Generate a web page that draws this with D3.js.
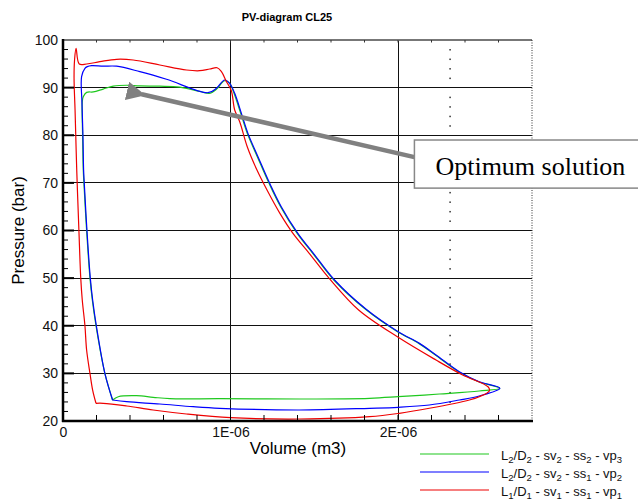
<!DOCTYPE html>
<html>
<head>
  <meta charset="utf-8">
  <style>
    body { margin: 0; background: #fff; }
    text { font-family: "Liberation Sans", Arial, sans-serif; }
  </style>
</head>
<body>
  <script src="https://cdn.jsdelivr.net/npm/d3@7"></script>
  <script>
    // volume in units of 1E-06 m3, pressure in bar
    const seriesNames = ["L_2/D_2 - sv_2 - ss_2 - vp_3", "L_2/D_2 - sv_2 - ss_1 - vp_2", "L_1/D_1 - sv_1 - ss_1 - vp_1"];
    const seriesColors = ["#1ec81e", "#0000ff", "#ee0000"];

    const greenVol = [0.296,0.250,0.197,0.175,0.161,0.141,0.125,0.121,0.117,0.115,0.121,0.141,0.181,0.240,0.300,0.380,0.459,0.578,0.697,0.816,0.876,0.916,0.965,0.995,1.021,1.061,1.100,1.160,1.230,1.299,1.398,1.498,1.617,1.806,1.997,2.124,2.223,2.362,2.482,2.608,2.485,2.247,2.001,1.830,1.412,0.936,0.638,0.538,0.439,0.330,0.296];
    const greenPres = [24.41,30.0,40.0,45.4,50.0,60.0,69.9,72.7,80.0,87.0,88.1,89.0,89.1,89.7,90.3,90.5,90.35,90.3,90.1,89.2,88.8,89.65,91.45,90.9,88.8,84.6,80.4,75.5,69.9,65.0,59.4,54.9,49.6,43.45,38.75,36.3,33.86,30.35,28.25,26.87,26.3,25.67,25.1,24.77,24.62,24.68,24.68,24.98,25.31,25.1,24.41];

    const blueVol = [0.296,0.250,0.199,0.177,0.163,0.143,0.127,0.123,0.119,0.113,0.111,0.131,0.145,0.171,0.240,0.320,0.459,0.618,0.866,0.916,0.965,0.995,1.025,1.065,1.104,1.164,1.234,1.303,1.402,1.502,1.621,1.810,2.001,2.128,2.227,2.366,2.485,2.608,2.485,2.366,2.187,2.001,1.830,1.412,0.936,0.777,0.578,0.380,0.296];
    const bluePres = [24.41,30.0,40.0,45.4,50.0,60.0,69.9,72.7,80.0,87.0,92.3,94.05,94.4,94.6,94.5,94.5,93.35,91.75,88.93,89.86,91.6,90.9,88.8,84.6,80.4,75.5,69.9,65.0,59.4,54.9,49.6,43.45,38.75,36.3,33.86,30.35,28.25,26.87,25.25,24.41,23.36,22.88,22.67,22.31,22.67,23.0,23.57,24.05,24.41];

    const redVol = [0.197,0.177,0.161,0.141,0.131,0.115,0.106,0.095,0.082,0.072,0.066,0.069,0.078,0.097,0.141,0.220,0.320,0.419,0.578,0.737,0.816,0.876,0.920,0.946,0.976,1.005,1.025,1.055,1.100,1.158,1.218,1.295,1.373,1.470,1.588,1.765,2.001,2.227,2.386,2.539,2.545,2.485,2.426,2.187,2.008,1.830,1.412,1.001,0.737,0.538,0.380,0.240,0.197];
    const redPres = [23.72,26.5,30.0,34.9,40.0,45.4,50.0,60.0,72.7,85.3,92.0,95.8,98.26,94.96,94.96,95.44,95.95,95.8,94.75,93.7,93.55,93.91,94.18,93.34,91.25,89.35,85.3,82.85,77.6,72.7,68.5,63.6,59.4,55.2,50.0,43.3,37.57,32.8,29.66,27.14,26.3,25.1,24.41,22.67,21.62,20.9,20.42,20.69,21.47,22.31,23.15,23.72,23.72];

    const xTickVals = [0, 1, 2];
    const xTickLabels = ["0", "1E-06", "2E-06"];
    const yTickVals = [20, 30, 40, 50, 60, 70, 80, 90, 100];

    container_w = 638;
    container_h = 502;
    const margin = { top: 40, right: 106, bottom: 81, left: 63 };
    const plotRight = container_w - margin.right;
    const plotBottom = container_h - margin.bottom;

    var xScale = d3.scaleLinear().domain([0, 2.8]).range([margin.left, plotRight]);
    var yScale = d3.scaleLinear().domain([20, 100]).range([plotBottom, margin.top]);

    var svg = d3.select("body")
              .append("svg")
              .attr("width", container_w)
              .attr("height", container_h);

    // grid
    var grid = svg.append("g").attr("shape-rendering", "crispEdges");
    grid.selectAll("line.h")
      .data(yTickVals.slice(1, -1))
      .enter().append("line")
      .attr("x1", margin.left).attr("x2", plotRight)
      .attr("y1", d => yScale(d)).attr("y2", d => yScale(d))
      .attr("stroke", "#111").attr("stroke-width", 1);
    grid.selectAll("line.v")
      .data(xTickVals.slice(1))
      .enter().append("line")
      .attr("x1", d => xScale(d)).attr("x2", d => xScale(d))
      .attr("y1", margin.top).attr("y2", plotBottom)
      .attr("stroke", "#111").attr("stroke-width", 1);

    // odd dotted column near the right
    var minorY = d3.range(22, 100, 2).filter(d => d % 10 != 0);
    svg.append("g").selectAll("rect")
      .data(minorY).enter().append("rect")
      .attr("x", xScale(2.31) - 0.5).attr("y", d => yScale(d) - 0.5)
      .attr("width", 1.3).attr("height", 1.5).attr("fill", "#111");

    // frame: top gray, right dotted
    svg.append("line")
      .attr("x1", margin.left).attr("x2", plotRight)
      .attr("y1", margin.top).attr("y2", margin.top)
      .attr("stroke", "#777").attr("stroke-width", 2);
    svg.append("line")
      .attr("x1", plotRight).attr("x2", plotRight)
      .attr("y1", margin.top).attr("y2", plotBottom)
      .attr("stroke", "#333").attr("stroke-width", 1).attr("stroke-dasharray", "1,1.5");

    var minorX = d3.range(0.2, 2.8, 0.2);
    svg.append("g").selectAll("line")
      .data(minorX).enter().append("line")
      .attr("x1", d => xScale(d)).attr("x2", d => xScale(d))
      .attr("y1", margin.top).attr("y2", margin.top + 2.5)
      .attr("stroke", "#333").attr("stroke-width", 1);

    // curves
    var line = d3.line()
      .x(d => xScale(d[0]))
      .y(d => yScale(d[1]))
      .curve(d3.curveCatmullRom.alpha(0.5));

    var series = [
      d3.zip(greenVol, greenPres),
      d3.zip(blueVol, bluePres),
      d3.zip(redVol, redPres)
    ];

    svg.append("g").selectAll("path")
      .data(series).enter().append("path")
      .attr("d", line)
      .attr("fill", "none")
      .attr("stroke", (d, i) => seriesColors[i])
      .attr("stroke-width", 1.2);

    // left axis
    var yAxis = d3.axisLeft(yScale).tickValues(yTickVals).tickSize(0).tickPadding(5);
    var gy = svg.append("g")
      .attr("transform", `translate(${margin.left},0)`)
      .call(yAxis);
    gy.select(".domain").remove();
    gy.selectAll("text").attr("font-size", 14).attr("fill", "#111").style("font-family", "Liberation Sans, Arial");
    svg.append("g").selectAll("line")
      .data(d3.range(22, 100, 2)).enter().append("line")
      .attr("x1", margin.left).attr("x2", d => margin.left + (d % 10 == 0 ? 11 : 5))
      .attr("y1", d => yScale(d)).attr("y2", d => yScale(d))
      .attr("stroke", "#000").attr("stroke-width", d => d % 10 == 0 ? 2 : 1);
    svg.append("line")
      .attr("x1", margin.left).attr("x2", margin.left)
      .attr("y1", margin.top - 1).attr("y2", plotBottom + 1)
      .attr("stroke", "#000").attr("stroke-width", 2.5);

    // bottom axis
    var xAxis = d3.axisBottom(xScale).tickValues(xTickVals)
      .tickFormat((d, i) => xTickLabels[i]).tickSize(0).tickPadding(6);
    var gx = svg.append("g")
      .attr("transform", `translate(0,${plotBottom})`)
      .call(xAxis);
    gx.select(".domain").remove();
    gx.selectAll("text").attr("font-size", 14).attr("fill", "#111").style("font-family", "Liberation Sans, Arial");
    svg.append("g").selectAll("line")
      .data(minorX).enter().append("line")
      .attr("x1", d => xScale(d)).attr("x2", d => xScale(d))
      .attr("y1", plotBottom).attr("y2", plotBottom - 6)
      .attr("stroke", "#000").attr("stroke-width", 1);
    svg.append("line")
      .attr("x1", margin.left - 1).attr("x2", plotRight + 1)
      .attr("y1", plotBottom).attr("y2", plotBottom)
      .attr("stroke", "#000").attr("stroke-width", 2.5);

    // title and axis labels
    svg.append("text")
      .attr("x", 287).attr("y", 20.5)
      .attr("text-anchor", "middle")
      .attr("font-size", 11).attr("font-weight", "bold")
      .text("PV-diagram CL25");

    svg.append("text")
      .attr("x", 298).attr("y", 454)
      .attr("text-anchor", "middle")
      .attr("font-size", 17)
      .text("Volume (m3)");

    svg.append("text")
      .attr("text-anchor", "middle")
      .attr("font-size", 17)
      .attr("transform", `translate(24, ${(margin.top + plotBottom) / 2})rotate(-90)`)
      .text("Pressure (bar)");

    // annotation
    svg.append("defs").append("marker")
      .attr("id", "head")
      .attr("viewBox", "0 0 10 10")
      .attr("refX", 2).attr("refY", 5)
      .attr("markerWidth", 4.2).attr("markerHeight", 4.2)
      .attr("orient", "auto")
      .append("path").attr("d", "M0,5 L10,0 L10,10 Z").attr("fill", "#808080");

    svg.append("line")
      .attr("x1", xScale(2.098)).attr("y1", yScale(75.4))
      .attr("x2", xScale(0.47)).attr("y2", yScale(88.6))
      .attr("stroke", "#808080").attr("stroke-width", 4.5)
      .attr("marker-end", "url(#head)");

    svg.append("rect")
      .attr("x", xScale(2.098)).attr("y", yScale(79.0))
      .attr("width", 240).attr("height", yScale(68.9) - yScale(79.0))
      .attr("fill", "#fff").attr("stroke", "#888").attr("stroke-width", 1.5);
    svg.append("text")
      .attr("x", xScale(2.098) + 21).attr("y", 175)
      .attr("font-size", 26)
      .style("font-family", "Liberation Serif, Times New Roman, serif")
      .text("Optimum solution");

    // legend
    var legend = svg.append("g");
    seriesNames.forEach(function (name, i) {
      var ly = 454 + i * 18;
      legend.append("line")
        .attr("x1", 420).attr("x2", 489)
        .attr("y1", ly).attr("y2", ly)
        .attr("stroke", seriesColors[i]).attr("stroke-width", 1.2);
      var t = legend.append("text")
        .attr("x", 501).attr("y", ly + 6)
        .attr("font-size", 13).attr("fill", "#111");
      var parts = name.split(/_(\d)/);
      var shifted = false;
      parts.forEach(function (p, k) {
        if (p === "") return;
        var sub = k % 2 == 1;
        var ts = t.append("tspan").text(p);
        if (sub) { ts.attr("font-size", 9.5).attr("dy", 2.5); shifted = true; }
        else if (shifted) { ts.attr("dy", -2.5); shifted = false; }
      });
    });
  </script>
</body>
</html>
